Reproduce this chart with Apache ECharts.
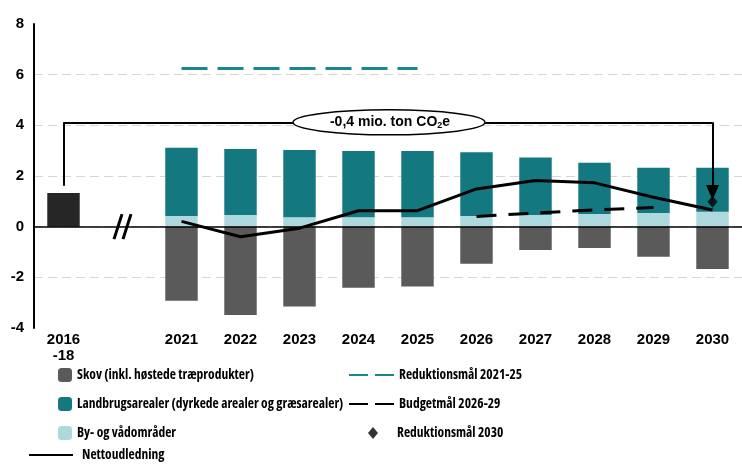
<!DOCTYPE html>
<html lang="da">
<head>
    <meta charset="UTF-8">
    <title>Nettoudledning LULUCF</title>
    <style>
        html, body { margin: 0; padding: 0; background: #fff; }
        #main { width: 742px; height: 465px; }
    </style>
</head>
<body>
    <div id="main"></div>
    <script src="https://cdn.jsdelivr.net/npm/echarts@6/dist/echarts.min.js"></script>
    <script>
        // kategorier: historisk gennemsnit, et tomt felt til brudtegnet, og 2021-2030
        var categories = ['2016\n-18', '', '2021', '2022', '2023', '2024', '2025', '2026', '2027', '2028', '2029', '2030'];
        var historisk = [1.33, '-', '-', '-', '-', '-', '-', '-', '-', '-', '-', '-'];
        var byVaad = ['-', '-', 0.42, 0.46, 0.37, 0.37, 0.37, 0.42, 0.46, 0.50, 0.54, 0.59];
        var landbrug = ['-', '-', 2.70, 2.61, 2.66, 2.62, 2.62, 2.52, 2.27, 2.02, 1.79, 1.74];
        var skov = ['-', '-', -2.92, -3.49, -3.15, -2.41, -2.36, -1.46, -0.92, -0.84, -1.19, -1.67];
        var netto = ['-', '-', 0.21, -0.40, -0.06, 0.63, 0.63, 1.49, 1.82, 1.73, 1.16, 0.66];
        var maal2125 = ['-', '-', 6.24, 6.24, 6.24, 6.24, 6.24, '-', '-', '-', '-', '-'];
        var budget = ['-', '-', '-', '-', '-', '-', '-', 0.40, 0.54, 0.66, 0.76, '-'];
        var maal2030 = ['-', '-', '-', '-', '-', '-', '-', '-', '-', '-', '-', 0.98];
        var yTicks = { min: -4, max: 8, step: 2 };

        // klammen fra 2016-18 til 2030
        var klamme = { fra: 0, til: 11, start: 1.62, top: 4.12, slut: 1.35 };

        var boldFont = '"Liberation Sans", Arial, sans-serif';
        // smal skrift til forklaringen (Open Sans i condensed bredde)
        var legendText = {
            fontFamily: '"Open Sans", sans-serif', fontStyle: 'condensed', fontWeight: 'bold',
            fontSize: 13.5, lineHeight: 14, color: '#000'
        };

        var chart = echarts.init(document.getElementById('main'));

        var option = {
            animation: false,
            grid: { left: 34, top: 24, width: 710, height: 304 },
            xAxis: {
                type: 'category',
                data: categories,
                axisLine: { show: false },
                axisTick: { show: false },
                axisLabel: {
                    interval: 0, margin: 4, color: '#000',
                    fontFamily: boldFont, fontWeight: 'bold', fontSize: 15, lineHeight: 16
                }
            },
            yAxis: {
                type: 'value',
                min: yTicks.min, max: yTicks.max, interval: yTicks.step,
                axisLine: { show: true, lineStyle: { color: '#000', width: 2 } },
                axisTick: { show: false },
                axisLabel: {
                    margin: 10, color: '#000',
                    fontFamily: boldFont, fontWeight: 'bold', fontSize: 15
                },
                splitLine: {
                    show: true, showMinLine: false, showMaxLine: false,
                    lineStyle: { color: '#d6d6d6', type: [9, 5], width: 1 }
                }
            },
            legend: [{
                orient: 'vertical', left: 58, top: 368, padding: 0,
                itemWidth: 14, itemHeight: 14, itemGap: 15,
                selectedMode: false,
                textStyle: legendText,
                data: ['Skov (inkl. høstede træprodukter)', 'Landbrugsarealer (dyrkede arealer og græsarealer)', 'By- og vådområder']
            }, {
                orient: 'vertical', left: 28, top: 448, padding: 0,
                itemWidth: 44, itemHeight: 14,
                selectedMode: false,
                textStyle: Object.assign({ padding: [0, 0, 0, 4] }, legendText),
                data: [{ name: 'Nettoudledning', itemStyle: { opacity: 0 } }]
            }, {
                orient: 'vertical', left: 348, top: 368, padding: 0,
                itemWidth: 45, itemHeight: 14, itemGap: 15,
                selectedMode: false,
                textStyle: legendText,
                data: [
                    { name: 'Reduktionsmål 2021-25', itemStyle: { opacity: 0 }, lineStyle: { type: [19, 7] } },
                    { name: 'Budgetmål 2026-29', itemStyle: { opacity: 0 }, lineStyle: { type: [19, 7] } }
                ]
            }, {
                orient: 'vertical', left: 368, top: 426, padding: 0,
                itemWidth: 10, itemHeight: 12,
                selectedMode: false,
                textStyle: Object.assign({ padding: [0, 0, 0, 14] }, legendText),
                data: ['Reduktionsmål 2030']
            }],
            series: [{
                name: 'Historisk',
                type: 'bar', stack: 'total', barWidth: '55%',
                itemStyle: { color: '#262626' },
                data: historisk
            }, {
                name: 'By- og vådområder',
                type: 'bar', stack: 'total', barWidth: '55%',
                itemStyle: { color: '#acd8de' },
                data: byVaad
            }, {
                name: 'Landbrugsarealer (dyrkede arealer og græsarealer)',
                type: 'bar', stack: 'total', barWidth: '55%',
                itemStyle: { color: '#137880' },
                data: landbrug
            }, {
                name: 'Skov (inkl. høstede træprodukter)',
                type: 'bar', stack: 'total', barWidth: '55%',
                itemStyle: { color: '#5a5a5a' },
                data: skov,
                markLine: {
                    silent: true, symbol: ['none', 'none'],
                    label: { show: false },
                    lineStyle: { color: '#000', width: 1.5, type: 'solid' },
                    data: [{ yAxis: 0 }]
                }
            }, {
                name: 'Nettoudledning',
                type: 'line', symbol: 'none', z: 5,
                lineStyle: { color: '#000', width: 3 },
                itemStyle: { color: '#000' },
                data: netto
            }, {
                name: 'Reduktionsmål 2021-25',
                type: 'line', symbol: 'none', z: 5,
                lineStyle: { color: '#1a8690', width: 3, type: [26, 10] },
                itemStyle: { color: '#1a8690' },
                data: maal2125
            }, {
                name: 'Budgetmål 2026-29',
                type: 'line', symbol: 'none', z: 5,
                lineStyle: { color: '#000', width: 3, type: [20, 12] },
                itemStyle: { color: '#000' },
                data: budget
            }, {
                name: 'Reduktionsmål 2030',
                type: 'scatter', symbol: 'diamond', symbolSize: [10, 12], z: 6,
                itemStyle: { color: '#000' },
                data: maal2030,
                markLine: {
                    silent: true, symbol: ['none', 'none'],
                    label: { show: false },
                    lineStyle: { color: '#000', width: 2, type: 'solid' },
                    data: [
                        [{ coord: [klamme.fra, klamme.start] }, { coord: [klamme.fra, klamme.top] }],
                        [{ coord: [klamme.fra, klamme.top] }, { coord: [klamme.til, klamme.top] }],
                        [{ coord: [klamme.til, klamme.top] }, { coord: [klamme.til, klamme.slut], symbol: 'triangle', symbolSize: [13, 15] }]
                    ]
                }
            }]
        };

        chart.setOption(option);

        // ellipse med teksten midt på klammen og brudtegnet "//" på nul-linjen
        var pa = chart.convertToPixel({ gridIndex: 0 }, [klamme.fra, klamme.top]);
        var pb = chart.convertToPixel({ gridIndex: 0 }, [klamme.til, klamme.top]);
        var cx = (pa[0] + pb[0]) / 2, cy = pa[1];
        var brud = chart.convertToPixel({ gridIndex: 0 }, [1, 0]);

        chart.setOption({
            graphic: [{
                type: 'ellipse', z: 100,
                shape: { cx: cx + 1, cy: cy, rx: 96, ry: 12.5 },
                style: { fill: '#fff', stroke: '#000', lineWidth: 1.5 }
            }, {
                type: 'text', z: 101, x: cx + 2, y: cy,
                style: {
                    text: '-0,4 mio. ton CO{s|2}e',
                    align: 'center', verticalAlign: 'middle',
                    font: 'bold 14px "Liberation Sans", Arial, sans-serif', fill: '#000',
                    rich: { s: { fontSize: 9, fontWeight: 'bold', fontFamily: 'Liberation Sans', padding: [7, 0, 0, 0] } }
                }
            }, {
                type: 'line', z: 100,
                shape: { x1: brud[0] - 8.5, y1: brud[1] + 12.5, x2: brud[0] - 0.5, y2: brud[1] - 12.5 },
                style: { stroke: '#000', lineWidth: 3 }
            }, {
                type: 'line', z: 100,
                shape: { x1: brud[0] + 0.5, y1: brud[1] + 12.5, x2: brud[0] + 8.5, y2: brud[1] - 12.5 },
                style: { stroke: '#000', lineWidth: 3 }
            }]
        });
    </script>
</body>
</html>
